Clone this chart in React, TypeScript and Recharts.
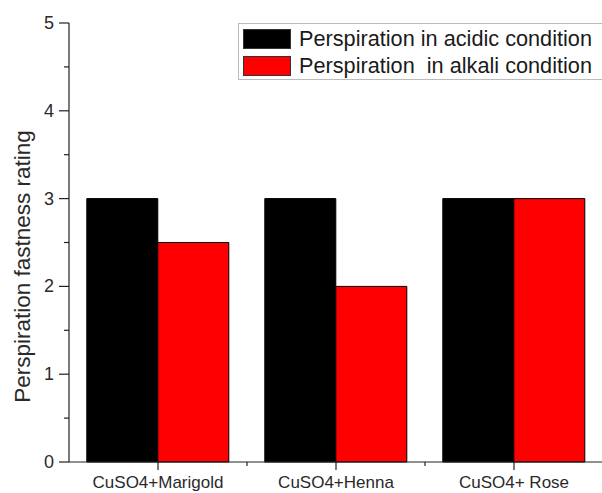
import { BarChart, Bar, XAxis, YAxis, Label } from 'recharts'

const categories = ['CuSO4+Marigold', 'CuSO4+Henna', 'CuSO4+ Rose']
const acidic = [3, 3, 3]
const alkali = [2.5, 2, 3]
const seriesNames = ['Perspiration in acidic condition', 'Perspiration  in alkali condition']
const seriesColors = ['#000000', '#ff0000']
const yTicks = [0, 0.5, 1, 1.5, 2, 2.5, 3, 3.5, 4, 4.5, 5]

const data = categories.map((name, i) => ({ name, acidic: acidic[i], alkali: alkali[i] }))

const FONT = 'Liberation Sans, Arial, sans-serif'

function YTick(props: any) {
  const { x, y, payload } = props
  const v = payload.value
  const major = Number.isInteger(v)
  return (
    <g>
      <line x1={x - (major ? 10 : 5)} x2={x} y1={y} y2={y} stroke="#222" strokeWidth={1.2} />
      {major && (
        <text x={x - 15} y={y} textAnchor="end" dominantBaseline="central" fontSize={18} fill="#2a2a2a" fontFamily={FONT}>
          {v}
        </text>
      )}
    </g>
  )
}

function XTick(props: any) {
  const { x, y, payload, index } = props
  const half = payload.offset || 89
  const axisY = y - 8
  return (
    <g>
      {index < categories.length - 1 && (
        <line x1={x + half} x2={x + half} y1={axisY} y2={axisY + 4} stroke="#222" strokeWidth={1.2} />
      )}
      <text x={x} y={y + 18} textAnchor="middle" fontSize={17} fill="#2a2a2a" fontFamily={FONT}>
        {payload.value}
      </text>
    </g>
  )
}

function YLabel(props: any) {
  const { viewBox } = props
  const cx = viewBox.x + 22
  const cy = viewBox.y + viewBox.height / 2 + 24
  return (
    <text
      x={cx}
      y={cy}
      transform={`rotate(-90, ${cx}, ${cy})`}
      textAnchor="middle"
      dominantBaseline="central"
      fontSize={22.5}
      fill="#2a2a2a"
      fontFamily={FONT}
    >
      Perspiration fastness rating
    </text>
  )
}

export default function App() {
  return (
    <div style={{ position: 'absolute', left: 0, top: 0, width: 602, height: 493, overflow: 'hidden', background: '#fff' }}>
      <BarChart
        width={602}
        height={493}
        data={data}
        margin={{ top: 23, right: -1, bottom: 0, left: 0 }}
        barCategoryGap="10%"
        barGap={0}
      >
        <XAxis xAxisId="top" orientation="top" dataKey="name" height={0} tick={false} tickLine={false} axisLine={{ stroke: '#999' }} />
        <XAxis
          dataKey="name"
          height={31}
          tickSize={8}
          tickMargin={0}
          tickLine={{ stroke: '#222', strokeWidth: 1.2 }}
          axisLine={{ stroke: '#222', strokeWidth: 1.2 }}
          tick={<XTick />}
          interval={0}
        />
        <YAxis
          width={69}
          domain={[0, 5]}
          ticks={yTicks}
          interval={0}
          tickSize={0}
          tickMargin={0}
          tickLine={false}
          axisLine={{ stroke: '#222', strokeWidth: 1.2 }}
          tick={<YTick />}
        >
          <Label content={<YLabel />} />
        </YAxis>
        <Bar dataKey="acidic" name={seriesNames[0]} fill={seriesColors[0]} stroke="#000" strokeWidth={1} isAnimationActive={false} />
        <Bar dataKey="alkali" name={seriesNames[1]} fill={seriesColors[1]} stroke="#000" strokeWidth={1} isAnimationActive={false} />
      </BarChart>
      <div
        style={{
          position: 'absolute',
          left: 238,
          top: 23,
          width: 370,
          height: 55,
          border: '1px solid #bbb',
          background: '#fff',
          fontFamily: FONT,
          fontSize: 21.7,
          color: '#1a1a1a',
        }}
      >
        {seriesNames.map((n, i) => (
          <div key={n} style={{ position: 'absolute', left: 4, top: i === 0 ? 5 : 32, height: 19, display: 'flex', alignItems: 'center' }}>
            <div style={{ width: 46, height: 18, background: seriesColors[i], border: '1px solid #333', marginRight: 8 }} />
            <span style={{ whiteSpace: 'pre', lineHeight: '19px' }}>{n}</span>
          </div>
        ))}
      </div>
    </div>
  )
}
